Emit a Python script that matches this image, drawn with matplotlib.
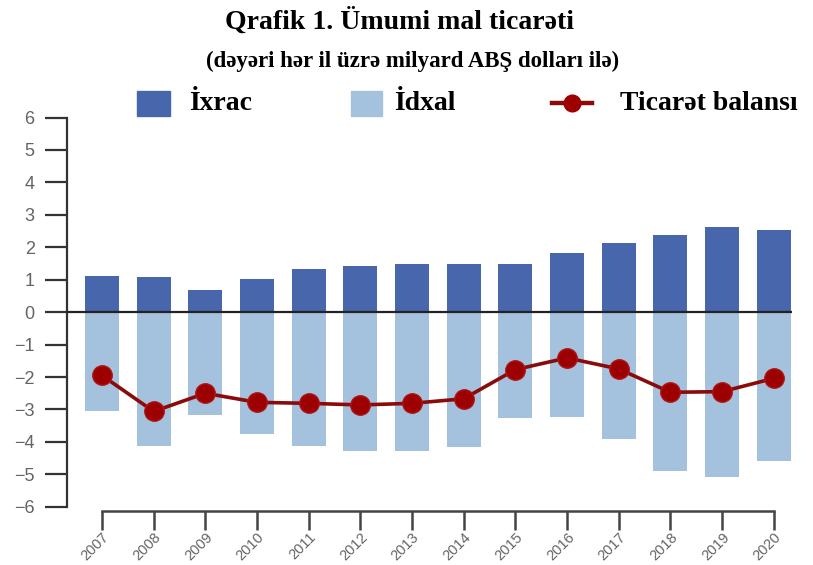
import matplotlib.pyplot as plt
from matplotlib.patches import Rectangle
from matplotlib.lines import Line2D
import numpy as np

# values in billion USD
years = ['2007', '2008', '2009', '2010', '2011', '2012', '2013',
         '2014', '2015', '2016', '2017', '2018', '2019', '2020']
exports = [1.13, 1.08, 0.67, 1.03, 1.33, 1.43, 1.49,
           1.49, 1.49, 1.83, 2.13, 2.39, 2.64, 2.53]
imports = [-3.06, -4.12, -3.17, -3.77, -4.12, -4.27, -4.27,
           -4.17, -3.27, -3.22, -3.91, -4.89, -5.07, -4.58]
balance = [-1.95, -3.06, -2.50, -2.78, -2.81, -2.86, -2.81,
           -2.67, -1.77, -1.41, -1.75, -2.47, -2.45, -2.04]

C_EXP = '#4766ac'
C_IMP = '#a4c2dd'
C_BAL = '#8b0a0a'
C_MRK = '#9c0000'
TXT = '#646464'

fig = plt.figure(figsize=(8.13, 5.65), dpi=100)
ax = fig.add_axes([0.082, 0.103, 0.892, 0.689])

x = np.arange(len(years))
ax.bar(x, exports, width=0.66, color=C_EXP, zorder=2)
ax.bar(x, imports, width=0.66, color=C_IMP, zorder=2)
ax.axhline(0, color='#222222', lw=1.6, zorder=3)
ax.plot(x, balance, color=C_BAL, lw=2.6, marker='o', ms=14,
        markerfacecolor=C_MRK, markeredgecolor='#b01515', markeredgewidth=1, zorder=4)

ax.set_xlim(-0.683, 13.35)
ax.set_ylim(-6, 6)
ax.set_yticks(range(-6, 7))
ax.set_yticklabels([str(v).replace('-', '\u2212') for v in range(-6, 7)])
ax.set_xticks(x)
ax.set_xticklabels(years)

for s in ['top', 'right']:
    ax.spines[s].set_visible(False)
ax.spines['left'].set_bounds(-6, 6)
ax.spines['left'].set_color('#333333')
ax.spines['left'].set_linewidth(1.6)
ax.spines['bottom'].set_bounds(0, 13)
ax.spines['bottom'].set_position(('outward', 3))
ax.spines['bottom'].set_color('#444444')
ax.spines['bottom'].set_linewidth(1.8)

ax.tick_params(axis='y', length=16, width=1.6, color='#333333', pad=7,
               labelsize=13, labelcolor=TXT)
ax.tick_params(axis='x', length=14, width=1.8, color='#444444', pad=0,
               labelsize=10.5, labelcolor=TXT, labelrotation=45)
for lab in ax.get_xticklabels():
    lab.set_ha('right')
    lab.set_va('top')
    lab.set_rotation_mode('anchor')
for lab in ax.get_xticklabels() + ax.get_yticklabels():
    lab.set_family('Liberation Sans')

# titles
fig.text(0.492, 0.962, 'Qrafik 1. Ümumi mal ticarəti', ha='center', va='center',
         family='Liberation Serif', weight='bold', fontsize=20)
fig.text(0.508, 0.892, '(dəyəri hər il üzrə milyard ABŞ dolları ilə)', ha='center',
         va='center', family='Liberation Serif', weight='bold', fontsize=16.5)

# legend drawn by hand
ly = 1 - 103 / 565
fig.patches.append(Rectangle((137 / 813, 1 - 116 / 565), 33 / 813, 25 / 565,
                             transform=fig.transFigure, color=C_EXP))
fig.text(189 / 813, ly, 'İxrac', ha='left', va='center',
         family='Liberation Serif', weight='bold', fontsize=20)
fig.patches.append(Rectangle((351 / 813, 1 - 116 / 565), 31 / 813, 25 / 565,
                             transform=fig.transFigure, color=C_IMP))
fig.text(394 / 813, ly, 'İdxal', ha='left', va='center',
         family='Liberation Serif', weight='bold', fontsize=20)
fig.lines.append(Line2D([552 / 813, 592 / 813], [ly, ly], transform=fig.transFigure,
                        color=C_BAL, lw=3.2, marker=None))
fig.lines.append(Line2D([572 / 813], [ly], transform=fig.transFigure,
                        color=C_MRK, marker='o', ms=12, lw=0))
fig.text(620 / 813, ly, 'Ticarət balansı', ha='left', va='center',
         family='Liberation Serif', weight='bold', fontsize=20)

fig.savefig('out.png', dpi=100)
